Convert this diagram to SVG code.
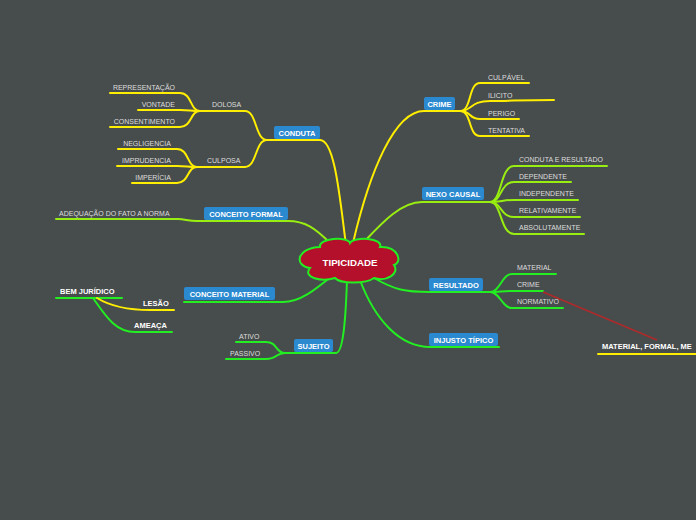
<svg xmlns="http://www.w3.org/2000/svg" width="696" height="520" viewBox="0 0 696 520">
<style>
.bg{fill:#474c4c}
.c{fill:none;stroke-width:2;stroke-linecap:round}
.y{stroke:#ffee00}
.l{stroke:#99ee11}
.g{stroke:#22ee22}
.t{font-family:"Liberation Sans",Arial,sans-serif;font-size:7px;fill:#dddddd}
.b{font-family:"Liberation Sans",Arial,sans-serif;font-size:7.5px;font-weight:bold;fill:#ffffff}
.box{fill:#2a89cf}
.e{text-anchor:end}
.m{text-anchor:middle}
</style>
<rect class="bg" x="0" y="0" width="696" height="520"/>
<g id="connectors">
<path class="c y" d="M320,140 C335,140 340,200 346,245"/>
<path class="c y" d="M267,140 L320,140"/>
<path class="c y" d="M267,140 C255,140 257,111 245,111 L200,111"/>
<path class="c y" d="M267,140 C255,140 257,167 245,167 L197,167"/>
<path class="c y" d="M200,111 C190,111 192,93 180,93 L110,93"/>
<path class="c y" d="M200,111 C190,111 190,110 180,110 L138,110"/>
<path class="c y" d="M200,111 C190,111 192,127 180,127 L110,127"/>
<path class="c y" d="M197,167 C187,167 189,149 177,149 L118,149"/>
<path class="c y" d="M197,167 C187,167 187,166 177,166 L117,166"/>
<path class="c y" d="M197,167 C187,167 189,183 177,183 L132,183"/>
<path class="c y" d="M353,243 C370,170 395,111 424,111 L460,111"/>
<path class="c y" d="M460,111 C472,111 468,83 480,83 L529,83"/>
<path class="c y" d="M460,111 C472,111 470,101 490,101 C510,101 520,100 554,100"/>
<path class="c y" d="M460,111 C472,111 468,119 480,119 L519,119"/>
<path class="c y" d="M460,111 C472,111 468,136 480,136 L529,136"/>
<path class="c l" d="M362,244 C380,225 400,202 422,202 L490,202"/>
<path class="c l" d="M490,202 C502,202 500,166 514,166 L607,166"/>
<path class="c l" d="M490,202 C502,202 500,182 514,182 L571,182"/>
<path class="c l" d="M490,202 C502,202 502,200 514,200 L578,200"/>
<path class="c l" d="M490,202 C502,202 500,217 514,217 L580,217"/>
<path class="c l" d="M490,202 C502,202 500,234 514,234 L584,234"/>
<path class="c l" d="M330,243 C315,228 305,221 288,221 L197,221 C188,221 185,219 178,219 L56,219"/>
<path class="c g" d="M333,275 C315,290 300,302 283,302 L184,302"/>
<path class="c g" d="M56,298 L122,298"/>
<path class="c y" d="M97,298 C110,306 130,310 150,310 L174,310"/>
<path class="c g" d="M93,298 C105,315 115,332 135,332 L172,332"/>
<path class="c g" d="M347,280 C346,310 344,353 336,353 L285,353"/>
<path class="c g" d="M285,353 C275,353 278,342 266,342 L236,342"/>
<path class="c g" d="M285,353 C275,353 278,359 266,359 L226,359"/>
<path class="c g" d="M374,278 C395,290 405,292 430,292 L490,292"/>
<path class="c g" d="M490,292 C500,292 502,274 512,274 L556,274"/>
<path class="c g" d="M490,292 C500,292 502,291 512,291 L543,291"/>
<path class="c g" d="M490,292 C500,292 502,308 512,308 L563,308"/>
<path class="c g" d="M360,280 C375,320 400,347 430,347 L499,347"/>
<path fill="none" stroke="#b02a2a" stroke-width="1.6" d="M543,292 L657,340"/>
<path class="c y" d="M598,354 L698,354"/>
</g>
<g id="tipicidade">
<path d="M320,247 C318,238 348,236 350,243 C354,236 384,238 380,247 C398,246 403,262 394,265 C400,274 386,282 374,278 C366,284 340,284 335,278 C322,282 302,278 310,268 C294,266 296,248 320,247 Z" fill="#b5102b" stroke="#22ee22" stroke-width="2"/>
<text class="b m" x="350" y="266" style="font-size:9.7px">TIPICIDADE</text>
</g>
<g id="conduta"><rect class="box" x="274" y="126" width="46" height="13" rx="2"/><text class="b m" x="297" y="135.5">CONDUTA</text></g>
<g id="dolosa"><text class="t" x="212" y="107">DOLOSA</text></g>
<g id="culposa"><text class="t" x="207" y="163">CULPOSA</text></g>
<g id="representacao"><text class="t e" x="175" y="90">REPRESENTAÇÃO</text></g>
<g id="vontade"><text class="t e" x="175" y="107">VONTADE</text></g>
<g id="consentimento"><text class="t e" x="175" y="124">CONSENTIMENTO</text></g>
<g id="negligencia"><text class="t e" x="171" y="146">NEGLIGENCIA</text></g>
<g id="imprudencia"><text class="t e" x="171" y="163">IMPRUDENCIA</text></g>
<g id="impericia"><text class="t e" x="171" y="180">IMPERÍCIA</text></g>
<g id="crime"><rect class="box" x="424" y="97" width="31" height="13" rx="2"/><text class="b m" x="439.5" y="106.5">CRIME</text></g>
<g id="culpavel"><text class="t" x="488" y="80">CULPÁVEL</text></g>
<g id="ilicito"><text class="t" x="488" y="98">ILICITO</text></g>
<g id="perigo"><text class="t" x="488" y="116">PERIGO</text></g>
<g id="tentativa"><text class="t" x="488" y="133">TENTATIVA</text></g>
<g id="nexo"><rect class="box" x="422" y="187" width="62" height="13" rx="2"/><text class="b m" x="453" y="196.5">NEXO CAUSAL</text></g>
<g id="conduta-resultado"><text class="t" x="519" y="162">CONDUTA E RESULTADO</text></g>
<g id="dependente"><text class="t" x="519" y="179">DEPENDENTE</text></g>
<g id="independente"><text class="t" x="519" y="196">INDEPENDENTE</text></g>
<g id="relativamente"><text class="t" x="519" y="213">RELATIVAMENTE</text></g>
<g id="absolutamente"><text class="t" x="519" y="230">ABSOLUTAMENTE</text></g>
<g id="conceito-formal"><rect class="box" x="204" y="207" width="84" height="13" rx="2"/><text class="b m" x="246" y="216.5">CONCEITO FORMAL</text></g>
<g id="adequacao"><text class="t" x="59" y="216">ADEQUAÇÃO DO FATO A NORMA</text></g>
<g id="conceito-material"><rect class="box" x="184" y="287" width="91" height="13" rx="2"/><text class="b m" x="229.5" y="296.5">CONCEITO MATERIAL</text></g>
<g id="bem-juridico"><text class="b" x="60" y="293.5">BEM JURÍDICO</text></g>
<g id="lesao"><text class="b" x="143" y="305.5">LESÃO</text></g>
<g id="ameaca"><text class="b" x="134" y="327.5">AMEAÇA</text></g>
<g id="sujeito"><rect class="box" x="294" y="339" width="39" height="13" rx="2"/><text class="b m" x="313.5" y="348.5">SUJEITO</text></g>
<g id="ativo"><text class="t" x="239" y="339">ATIVO</text></g>
<g id="passivo"><text class="t" x="230" y="356">PASSIVO</text></g>
<g id="resultado"><rect class="box" x="429" y="278" width="54" height="13" rx="2"/><text class="b m" x="456" y="287.5">RESULTADO</text></g>
<g id="material"><text class="t" x="517" y="270">MATERIAL</text></g>
<g id="crime2"><text class="t" x="517" y="287">CRIME</text></g>
<g id="normativo"><text class="t" x="517" y="304">NORMATIVO</text></g>
<g id="injusto"><rect class="box" x="429" y="333" width="69" height="13" rx="2"/><text class="b m" x="463.5" y="342.5">INJUSTO TÍPICO</text></g>
<g id="material-formal"><text class="b" x="602" y="349">MATERIAL, FORMAL, ME</text></g>
</svg>
